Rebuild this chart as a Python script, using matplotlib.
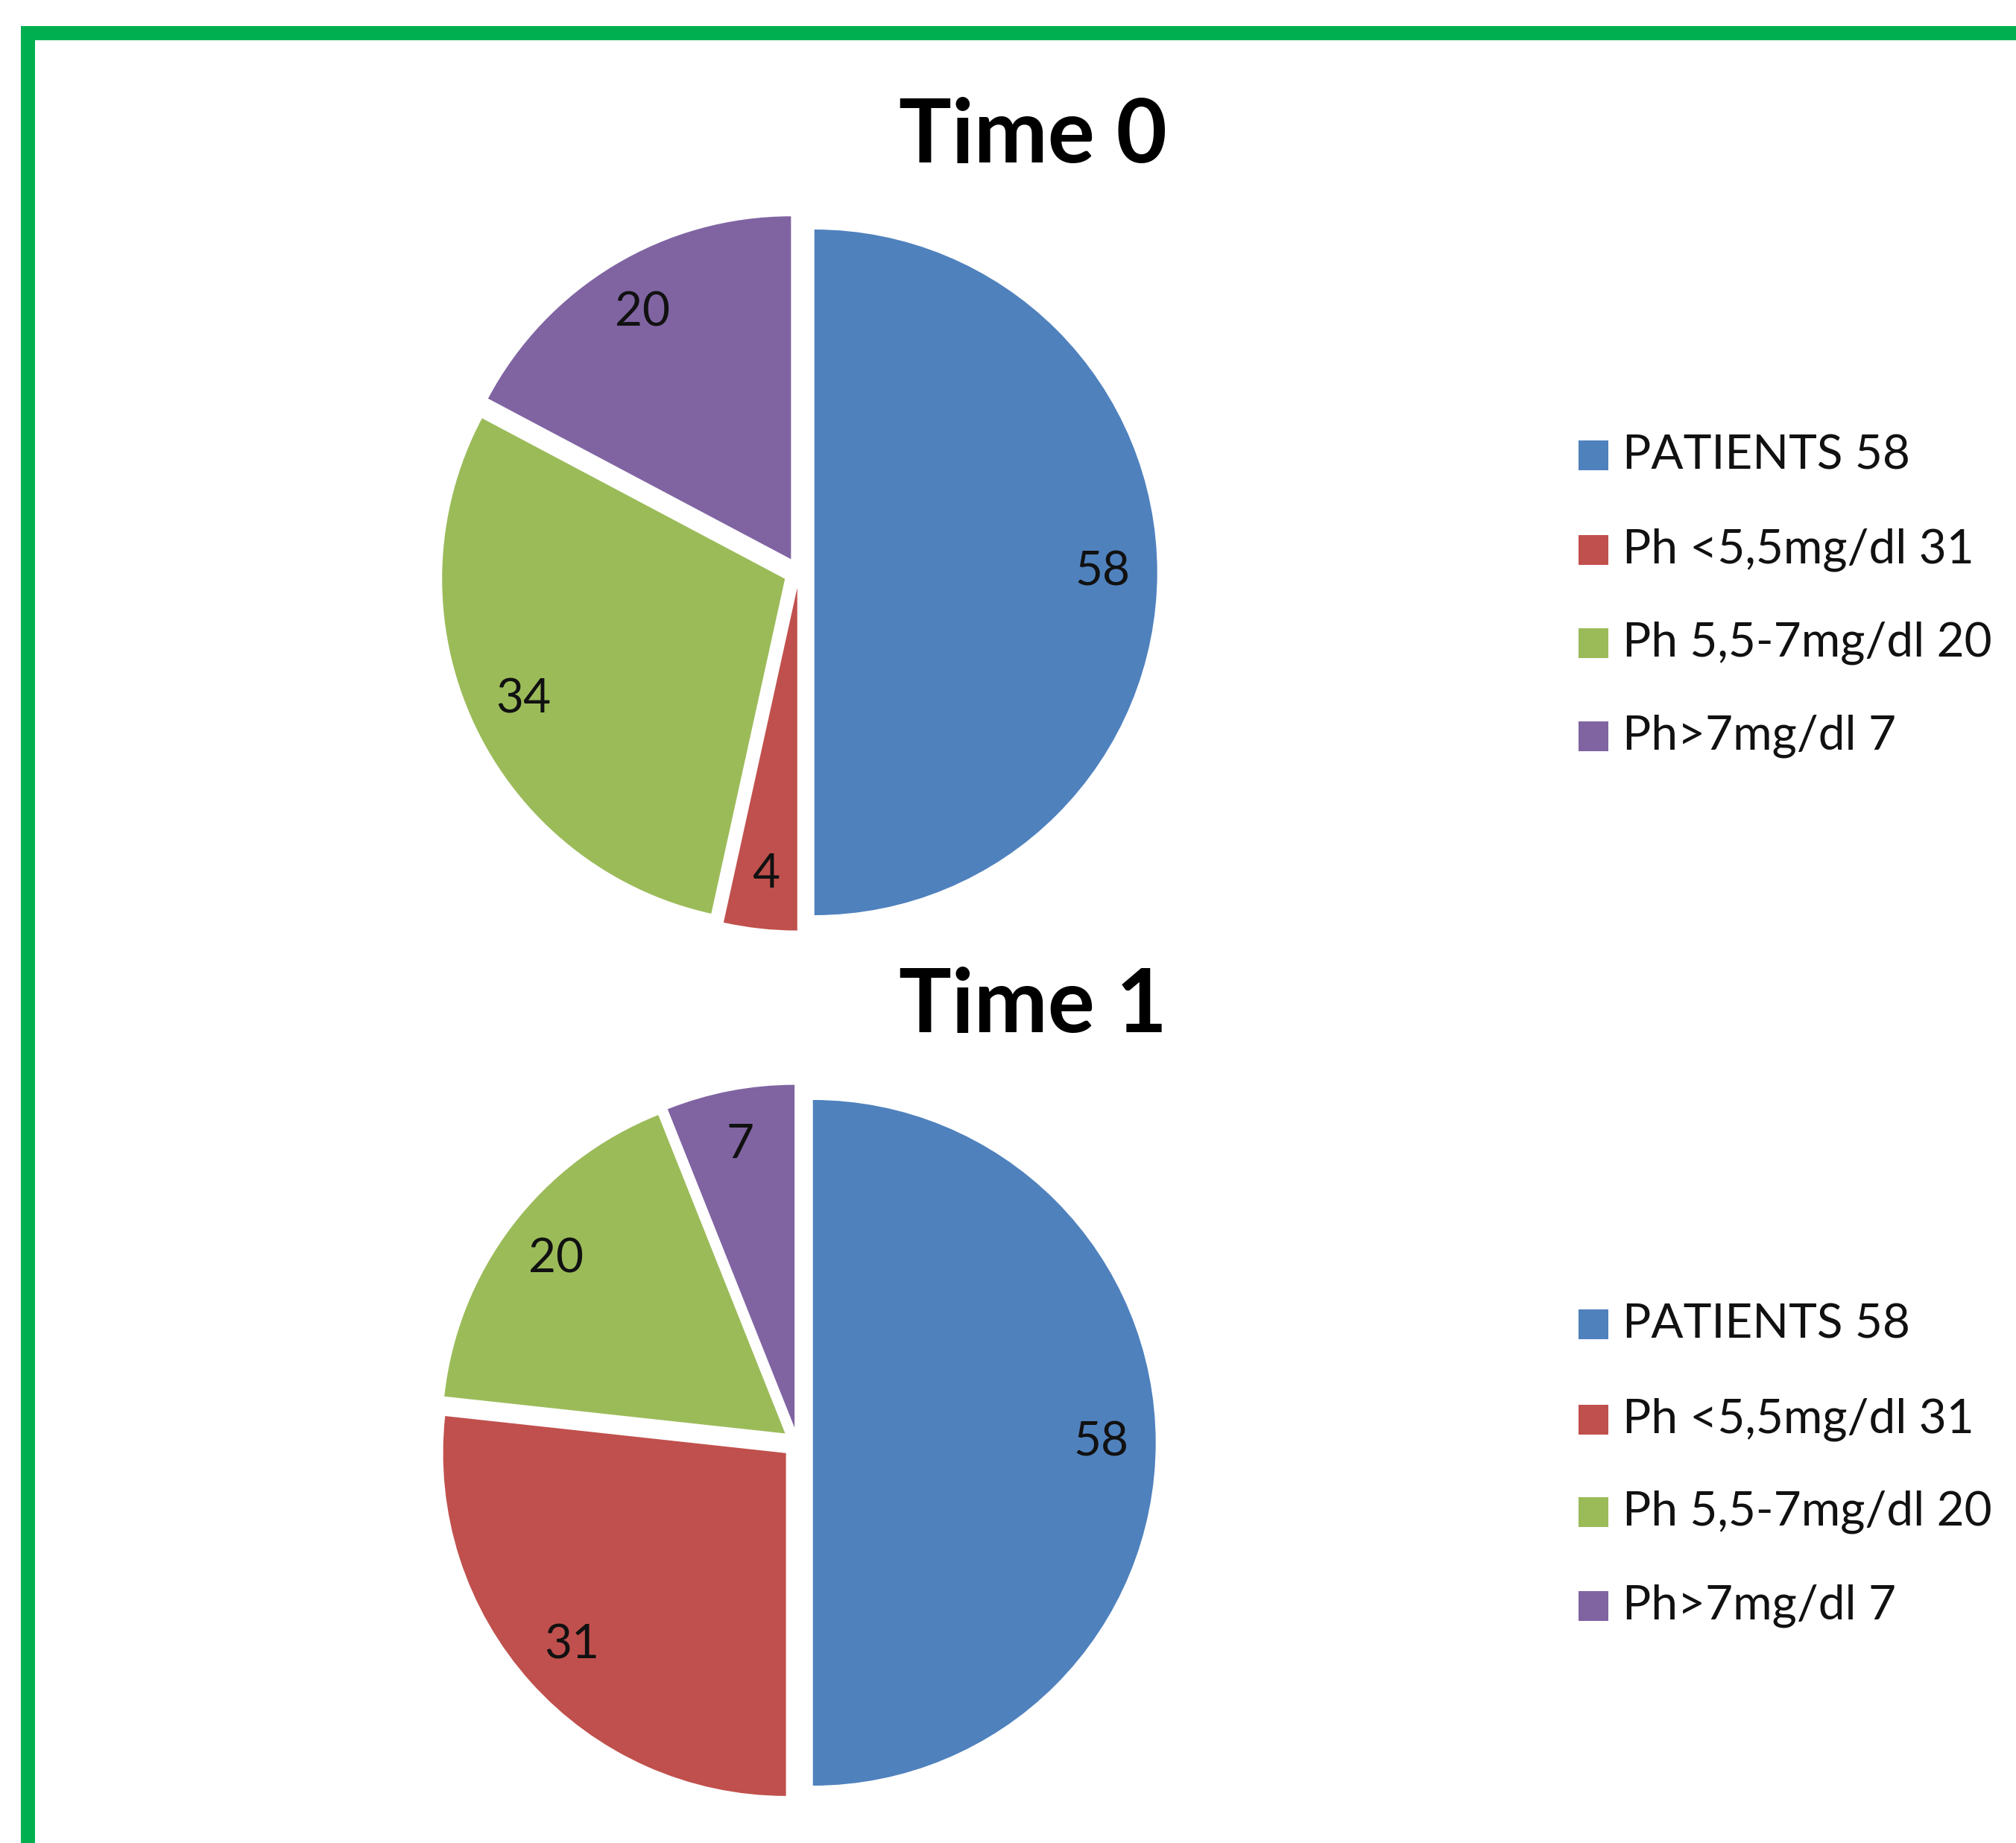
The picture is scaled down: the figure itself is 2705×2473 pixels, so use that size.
import matplotlib
matplotlib.use("Agg")
import matplotlib.pyplot as plt
from matplotlib.patches import Rectangle

# ---- data ----
categories = ["PATIENTS 58", "Ph <5,5mg/dl 31", "Ph 5,5-7mg/dl 20", "Ph>7mg/dl 7"]
time0_values = [58, 4, 34, 20]
time1_values = [58, 31, 20, 7]
titles = ["Time 0", "Time 1"]
colors = ["#4F81BD", "#C0504D", "#9BBB59", "#8064A2"]

W, H = 2705, 2473
DPI = 100
plt.rcParams['font.family'] = ['Lato', 'DejaVu Sans']

fig = plt.figure(figsize=(W / DPI, H / DPI), dpi=DPI)
fig.patch.set_facecolor("white")


def fx(px):
    return px / W


def fy(py):
    return 1 - py / H


R_PX = 460
HALF = 1.1


def draw_pie(values, cx, cy):
    half_px = HALF * R_PX
    ax = fig.add_axes([fx(cx - half_px), fy(cy + half_px), 2 * half_px / W, 2 * half_px / H])
    total = sum(values)
    ax.pie(values, colors=colors, startangle=90, counterclock=False,
           explode=[0.045] * len(values), radius=1,
           autopct=lambda p: f"{p * total / 100:.0f}", pctdistance=0.84,
           textprops=dict(fontsize=46, color="#111111"),
           wedgeprops=dict(linewidth=0))
    ax.set_xlim(-HALF, HALF)
    ax.set_ylim(-HALF, HALF)
    ax.set_aspect("equal")
    ax.axis("off")
    return ax


def draw_legend(row_ys):
    for cat, col, y in zip(categories, colors, row_ys):
        sq = 40
        fig.add_artist(Rectangle((fx(2118), fy(y + sq / 2)), sq / W, sq / H,
                                 transform=fig.transFigure, facecolor=col,
                                 edgecolor="none"))
        fig.text(fx(2177), fy(y), cat, fontsize=46, va="center", ha="left",
                 color="#111111")


# Time 0
draw_pie(time0_values, 1072, 768)
fig.text(fx(1386), fy(218), titles[0], fontsize=85, fontweight="bold",
         ha="center", va="baseline")
draw_legend([611, 738, 863, 988])

# Time 1
draw_pie(time1_values, 1070, 1936)
fig.text(fx(1386), fy(1385), titles[1], fontsize=85, fontweight="bold",
         ha="center", va="baseline")
draw_legend([1777, 1905, 2029, 2155])

# green frame (extends beyond right and bottom edges)
lw_px = 19
fig.add_artist(Rectangle((fx(27 + lw_px / 2), fy(H + 200)),
                         (W + 200) / W, (H + 200 - 34 - lw_px / 2) / H,
                         transform=fig.transFigure, facecolor="none",
                         edgecolor="#00B050", linewidth=lw_px * 72 / DPI))

fig.savefig("out.png", dpi=DPI, facecolor="white")
